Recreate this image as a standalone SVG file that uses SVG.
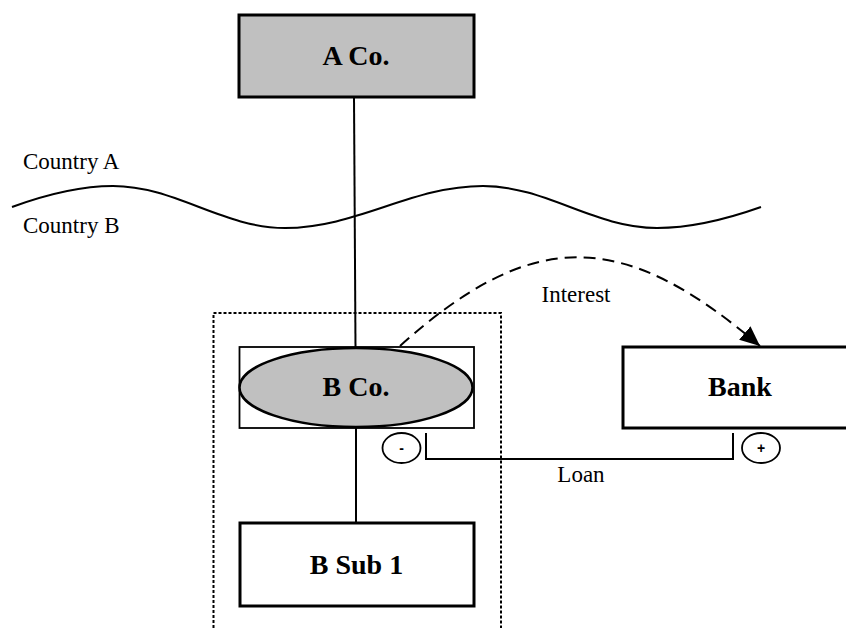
<svg xmlns="http://www.w3.org/2000/svg" width="846" height="628" viewBox="0 0 846 628">
<style>
.lbl{font-family:"Liberation Serif","Times New Roman",serif;font-size:28px;font-weight:bold;text-anchor:middle;fill:#000}
.txt{font-family:"Liberation Serif","Times New Roman",serif;font-size:23px;fill:#000}
.box{stroke:#000;stroke-width:3}
.line{fill:none;stroke:#000;stroke-width:2}
</style>
<defs>
<marker id="arr" markerUnits="userSpaceOnUse" markerWidth="20" markerHeight="20" viewBox="0 0 16 14" refX="16" refY="7" orient="auto">
<path d="M0,0 L16,7 L0,14 Z" fill="#000"/>
</marker>
</defs>
<rect width="846" height="628" fill="#fff"/>
<g id="border">
<path class="line" d="M12,207 C42,196 78,186 113,186 C175,186 223,228 285,228 C357,228 411,186 483,186 C546,186 594,228 657,228 C695,228 730,218 761,207" stroke-width="1.8"/>
<text class="txt" x="23" y="169">Country A</text>
<text class="txt" x="23" y="233">Country B</text>
</g>
<g id="group-b">
<rect x="213.5" y="313" width="287.5" height="330" fill="none" stroke="#000" stroke-width="2" stroke-dasharray="3 2"/>
</g>
<g id="connectors">
<line class="line" x1="354" y1="97" x2="355.5" y2="347"/>
<line class="line" x1="356" y1="428" x2="356" y2="523"/>
<path d="M400,346 C535,224.5 625,231 760,346" fill="none" stroke="#000" stroke-width="2" stroke-dasharray="12 7" marker-end="url(#arr)"/>
<path class="line" d="M426,433 V459 H733 V433" stroke-width="1.8"/>
<text class="txt" x="581" y="482" text-anchor="middle">Loan</text>
<text class="txt" x="576" y="302" text-anchor="middle">Interest</text>
</g>
<g id="a-co">
<rect class="box" x="239" y="15" width="235" height="82" fill="#c0c0c0"/>
<text class="lbl" x="356" y="65">A Co.</text>
</g>
<g id="b-co">
<rect x="239.5" y="347" width="234.5" height="81" fill="#fff" stroke="#000" stroke-width="1.8"/>
<ellipse cx="356" cy="387.5" rx="116.5" ry="39.5" fill="#c0c0c0" stroke="#000" stroke-width="2.5"/>
<text class="lbl" x="356" y="396">B Co.</text>
</g>
<g id="b-sub-1">
<rect class="box" x="240" y="523" width="234" height="83" fill="#fff"/>
<text class="lbl" x="356.5" y="574">B Sub 1</text>
</g>
<g id="bank">
<rect class="box" x="623" y="347" width="234" height="81" fill="#fff"/>
<text class="lbl" x="740" y="396">Bank</text>
</g>
<g id="minus">
<ellipse cx="401.5" cy="448" rx="19" ry="15" fill="#fff" stroke="#000" stroke-width="1.8"/>
<text x="401.5" y="453" text-anchor="middle" style="font-family:'Liberation Sans',Arial,sans-serif;font-size:14px;font-weight:bold">-</text>
</g>
<g id="plus">
<ellipse cx="761" cy="448" rx="19" ry="15" fill="#fff" stroke="#000" stroke-width="1.8"/>
<text x="761" y="453" text-anchor="middle" style="font-family:'Liberation Sans',Arial,sans-serif;font-size:14px;font-weight:bold">+</text>
</g>
</svg>
